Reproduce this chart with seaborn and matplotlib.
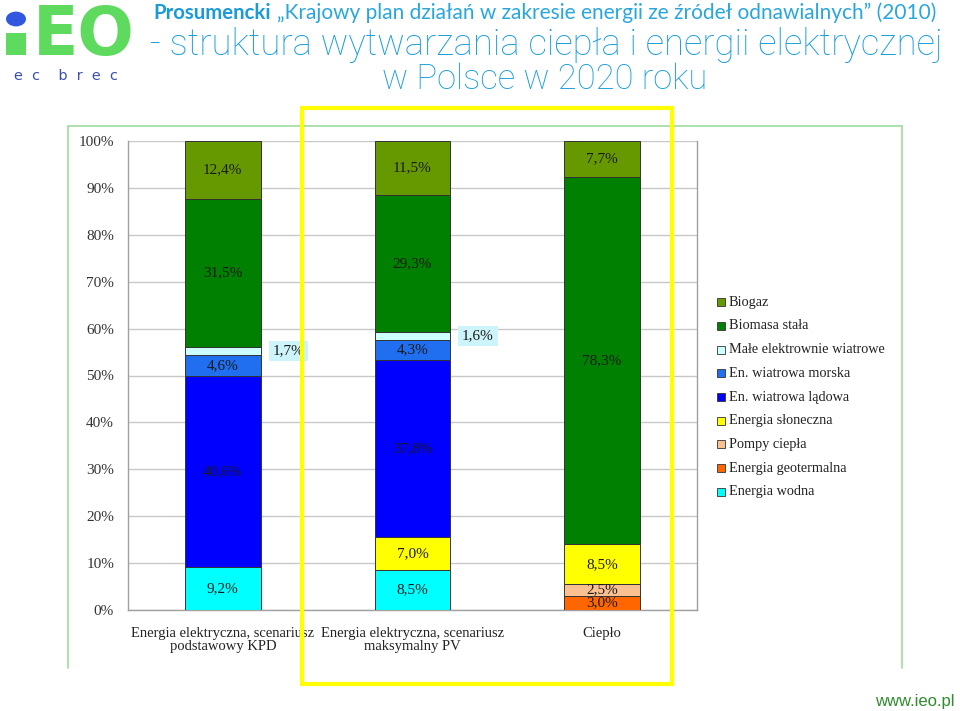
import numpy as np
import pandas as pd
import matplotlib
matplotlib.use("Agg")
import matplotlib.pyplot as plt
import seaborn as sns
from matplotlib.patches import Rectangle, Circle
from matplotlib.lines import Line2D

# ---------------- data ----------------
categories = ["Energia elektryczna, scenariusz\npodstawowy KPD",
              "Energia elektryczna, scenariusz\nmaksymalny PV",
              "Ciepło"]
sources = ["Biogaz", "Biomasa stała", "Małe elektrownie wiatrowe",
           "En. wiatrowa morska", "En. wiatrowa lądowa", "Energia słoneczna",
           "Pompy ciepła", "Energia geotermalna", "Energia wodna"]
colors = ["#669900", "#008000", "#CCFFFF", "#1F6FF0", "#0000FF",
          "#FFFF00", "#FAC090", "#FF6600", "#00FFFF"]
kpd_values = [12.4, 31.5, 1.7, 4.6, 40.6, 0.0, 0.0, 0.0, 9.2]
pv_values = [11.5, 29.3, 1.6, 4.3, 37.8, 7.0, 0.0, 0.0, 8.5]
heat_values = [7.7, 78.3, 0.0, 0.0, 0.0, 8.5, 2.5, 3.0, 0.0]
yticks = [0, 10, 20, 30, 40, 50, 60, 70, 80, 90, 100]
ytick_labels = [f"{t}%" for t in yticks]

header_bold = "Prosumencki"
header_rest = "\u201eKrajowy plan działań w zakresie energii ze źródeł odnawialnych\u201d (2010)"
title_line1 = "- struktura wytwarzania ciepła i energii elektrycznej"
title_line2 = "w Polsce w 2020 roku"
url_text = "www.ieo.pl"

df = pd.DataFrame({
    "pos": np.repeat(np.arange(len(categories)), len(sources)),
    "source": sources * len(categories),
    "value": kpd_values + pv_values + heat_values,
})

# ---------------- figure ----------------
sns.set_style("white")
plt.rcParams["font.family"] = ["Liberation Serif", "DejaVu Serif"]

W, H = 960, 711
fig = plt.figure(figsize=(9.6, 7.11), dpi=100)


def P(x, y):
    return x / W, 1 - y / H


ax = fig.add_axes([128 / W, 1 - 610 / H, (697 - 128) / W, (610 - 141) / H])

sns.histplot(data=df, x="pos", weights="value", hue="source",
             hue_order=sources, palette=dict(zip(sources, colors)),
             multiple="stack", discrete=True, shrink=0.4, alpha=1,
             edgecolor="#333333", linewidth=0.7, legend=False, ax=ax, zorder=3)

ax.set_xlim(-0.5, 2.5)
ax.set_ylim(0, 100)
ax.set_xlabel("")
ax.set_ylabel("")
ax.set_yticks(yticks)
ax.set_yticklabels(ytick_labels, fontsize=11, color="#333333")
ax.set_xticks(range(len(categories)))
ax.set_xticklabels(categories, fontsize=10.5, color="#222222", linespacing=1.05)
ax.set_xticks([-0.5, 0.5, 1.5, 2.5], minor=True)
ax.tick_params(axis="x", which="major", length=0, pad=12)
ax.tick_params(axis="x", which="minor", length=5, color="#A0A0A0", width=1, direction="out")
ax.tick_params(axis="y", length=0, pad=10)
ax.yaxis.grid(True, color="#C8C8C8", linewidth=1, zorder=0)
ax.xaxis.grid(False)
ax.set_axisbelow(True)
for side in ["left", "bottom", "right"]:
    ax.spines[side].set_visible(True)
    ax.spines[side].set_color("#A0A0A0")
    ax.spines[side].set_linewidth(1)
ax.spines["top"].set_visible(False)

# segment labels, from drawn bars
for p in ax.patches:
    h = p.get_height()
    if h < 0.05:
        continue
    cx = p.get_x() + p.get_width() / 2
    cy = p.get_y() + h / 2
    txt = f"{h:.1f}%".replace(".", ",")
    if h >= 2:
        ax.text(cx, cy, txt, ha="center", va="center", fontsize=11,
                color="#1a1a1a", zorder=5)
    else:
        ax.text(p.get_x() + p.get_width() + 0.145, cy, txt, ha="center",
                va="center", fontsize=11, color="#1a1a1a", zorder=5,
                bbox=dict(boxstyle="square,pad=0.25", fc="#CCF4FA", ec="none"))

# legend (manual)
leg_y0, leg_dy = 302, 23.75
for i, (lab, col) in enumerate(zip(sources, colors)):
    y = leg_y0 + i * leg_dy
    fig.patches.append(Rectangle(P(717, y + 4), 8 / W, 8 / H,
                                 transform=fig.transFigure, fc=col,
                                 ec="#333333", lw=0.6))
    fig.text(*P(729, y), lab, fontsize=10.3, color="#222222", va="center", ha="left")

# green frame around chart
frame_kw = dict(color="#9EDB9E", lw=1.2, transform=fig.transFigure)
fig.lines.append(Line2D([68 / W, 68 / W], [1 - 668 / H, 1 - 126 / H], **frame_kw))
fig.lines.append(Line2D([68 / W, 902 / W], [1 - 126 / H, 1 - 126 / H], **frame_kw))
fig.lines.append(Line2D([902 / W, 902 / W], [1 - 668 / H, 1 - 126 / H], **frame_kw))

# yellow highlight rectangle
fig.patches.append(Rectangle(P(302, 684), 370 / W, 576 / H, transform=fig.transFigure,
                             fill=False, ec="#FFFF00", lw=3, zorder=10))

renderer = fig.canvas.get_renderer()


def fit(t, target_w):
    w = t.get_window_extent(renderer).width
    t.set_fontsize(t.get_fontsize() * target_w / w)
    return t


sans = ["Lato", "DejaVu Sans"]
title_font = ["Roboto", "DejaVu Sans"]
t = fig.text(*P(153, 19), header_bold, family=sans, weight="bold", color="#1B9AD8",
             fontsize=12, va="baseline", ha="left")
fit(t, 117)
t = fig.text(*P(277, 19), header_rest, family=sans, weight="normal", color="#2AA6DE",
             fontsize=12, va="baseline", ha="left")
fit(t, 660)
t = fig.text(*P(150, 55), title_line1, family=title_font, weight="light", color="#1A9EDC",
             fontsize=21, va="baseline", ha="left")
fit(t, 792)
t = fig.text(*P(545, 89), title_line2, family=title_font, weight="light", color="#1A9EDC",
             fontsize=21, va="baseline", ha="center")
fit(t, 325)

# logo
fig.patches.append(Rectangle(P(6, 55), 20 / W, 22 / H, transform=fig.transFigure,
                             fc="#5EDB5E", ec="none"))
fig.patches.append(Circle(P(16, 19), 10 / W, transform=fig.transFigure,
                          fc="#3358E0", ec="none"))
t = fig.text(*P(33, 55), "EO", family=["DejaVu Sans"], weight="bold",
             color="#5EDB5E", fontsize=40, va="baseline", ha="left")
fit(t, 102)
t = fig.text(*P(14, 80), "e  c    b  r  e  c", family=["DejaVu Sans"],
             color="#3A4FB0", fontsize=11, va="baseline", ha="left")
fit(t, 104)

fig.text(*P(955, 706), url_text, family=["Liberation Sans", "DejaVu Sans"],
         color="#2E8B2E", fontsize=12, va="baseline", ha="right")

fig.savefig("out.png", dpi=100)
